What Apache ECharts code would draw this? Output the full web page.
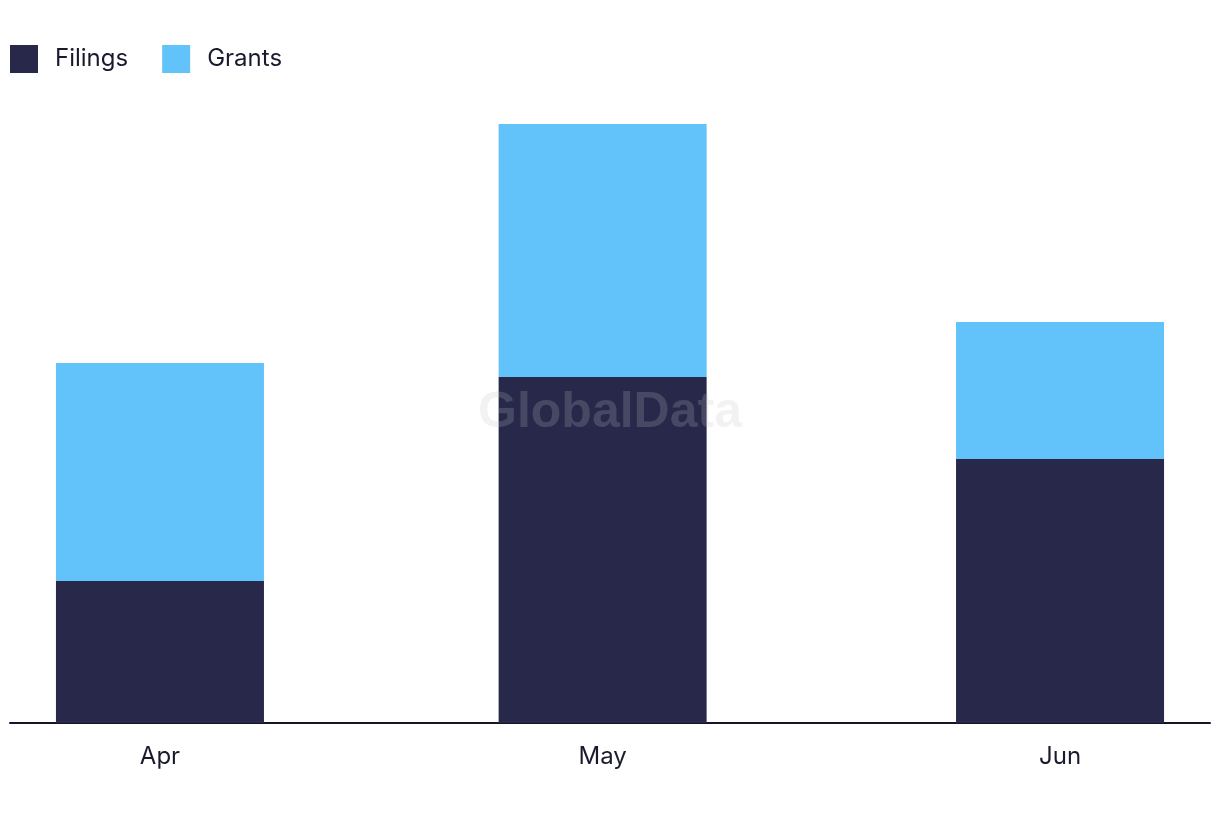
<!DOCTYPE html>
<html>
<head>
<meta charset="utf-8">
<script src="https://cdn.jsdelivr.net/npm/echarts@6/dist/echarts.min.js"></script>
<style>
html,body{margin:0;padding:0;background:#fff;}
#c{width:1220px;height:822px;}
</style>
</head>
<body>
<div id="c"></div>
<script>
var categories = ['Apr', 'May', 'Jun'];
var monthDates = ['2024-04-01', '2024-05-01', '2024-06-01'];
var filings = [142, 346, 264];
var grants = [218, 253, 137];
var yMax = 623;

var DAY = 86400000;
var ts = monthDates.map(function (d) { return Date.parse(d + 'T00:00:00Z'); });
// ECharts widens a time axis by half a bar on each side; this is the extra margin
var pad = 3.115 * DAY;

var chart = echarts.init(document.getElementById('c'), null, {renderer: 'canvas', useUTC: true});
var font = 'Inter, "Noto Sans", sans-serif';
chart.setOption({
  animation: false,
  useUTC: true,
  legend: {
    left: 10, top: 45, padding: 0,
    icon: 'rect', itemWidth: 28, itemHeight: 28, itemGap: 34,
    textStyle: {fontSize: 24, color: '#1a1a2e', fontFamily: font, padding: [0, 0, 0, 12]},
    data: ['Filings', 'Grants']
  },
  grid: {left: 10, right: 10, top: 100, bottom: 99, containLabel: false},
  xAxis: {
    type: 'time',
    min: ts[0] - pad,
    max: ts[2] + pad,
    splitNumber: 3,
    splitLine: {show: false},
    axisTick: {show: false},
    axisLine: {show: true, lineStyle: {color: '#15152a', width: 2}},
    axisLabel: {
      showMinLabel: false, showMaxLabel: false,
      hideOverlap: false,
      margin: 22,
      fontSize: 24,
      color: '#1a1a2e',
      fontFamily: font,
      formatter: function (v) {
        var t = typeof v === 'number' ? v : +v;
        var i = ts.indexOf(t);
        return i < 0 ? '' : categories[i];
      }
    }
  },
  yAxis: {
    type: 'value', min: 0, max: yMax,
    show: false, splitLine: {show: false}
  },
  series: [
    {
      name: 'Filings', type: 'bar', stack: 'total', barWidth: 208,
      itemStyle: {color: '#27284a'},
      data: ts.map(function (t, i) { return [t, filings[i]]; })
    },
    {
      name: 'Grants', type: 'bar', stack: 'total', barWidth: 208,
      itemStyle: {color: '#62c2fa'},
      data: ts.map(function (t, i) { return [t, grants[i]]; })
    }
  ],
  graphic: [{
    type: 'text', left: 'center', top: 388, z: 100, silent: true,
    style: {
      text: 'GlobalData',
      font: 'bold 50px "Liberation Sans", Arial, sans-serif',
      fill: 'rgba(193,193,200,0.21)'
    }
  }]
});
</script>
</body>
</html>
